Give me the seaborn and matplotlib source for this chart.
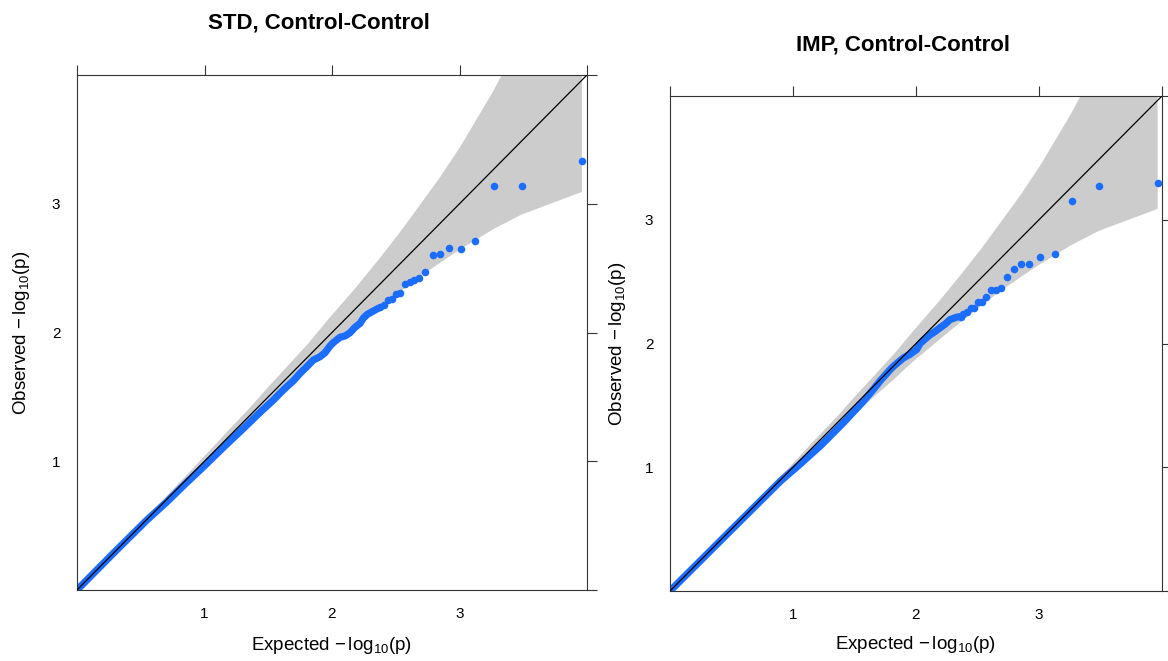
import matplotlib
matplotlib.use("Agg")
import matplotlib.pyplot as plt
import seaborn as sns

# === Data (expected vs observed -log10 p) ===
# dense part of the QQ curve, drawn as a thick line
std_exp = [0.0, 0.3, 0.55, 0.7, 0.85, 1.0, 1.15, 1.3, 1.43, 1.54, 1.592, 1.645, 1.697,
           1.749, 1.802, 1.853, 1.906, 1.945, 1.984, 2.01, 2.063, 2.102, 2.141, 2.18,
           2.22, 2.245, 2.277, 2.324, 2.363]
std_obs = [0.0, 0.3, 0.545, 0.68, 0.825, 0.965, 1.11, 1.25, 1.375, 1.475, 1.528, 1.579, 1.625,
           1.683, 1.734, 1.786, 1.812, 1.843, 1.895, 1.921, 1.963, 1.973, 1.998, 2.04,
           2.071, 2.11, 2.141, 2.167, 2.188]
# sparse tail points
std_tail_exp = [2.38, 2.41, 2.44, 2.47, 2.50, 2.53, 2.57, 2.61, 2.64, 2.68, 2.73, 2.79,
                2.85, 2.92, 3.01, 3.12, 3.27, 3.49, 3.96]
std_tail_obs = [2.20, 2.21, 2.25, 2.26, 2.30, 2.31, 2.38, 2.39, 2.41, 2.42, 2.47, 2.60,
                2.61, 2.66, 2.65, 2.71, 3.14, 3.14, 3.33]

imp_exp = [0.0, 0.5, 0.9, 1.04, 1.23, 1.40, 1.56, 1.65, 1.71, 1.76, 1.80, 1.845, 1.90,
           1.95, 2.005, 2.033, 2.073, 2.114, 2.154, 2.195, 2.236, 2.276, 2.331, 2.36]
imp_obs = [0.0, 0.495, 0.89, 1.01, 1.18, 1.35, 1.52, 1.625, 1.70, 1.755, 1.80, 1.84, 1.885,
           1.912, 1.951, 2.0, 2.036, 2.07, 2.096, 2.127, 2.156, 2.193, 2.213, 2.217]
imp_tail_exp = [2.366, 2.385, 2.417, 2.445, 2.47, 2.507, 2.534, 2.567, 2.61, 2.65, 2.69,
                2.74, 2.80, 2.85, 2.92, 3.01, 3.127, 3.27, 3.49, 3.97]
imp_tail_obs = [2.215, 2.235, 2.255, 2.283, 2.289, 2.332, 2.335, 2.376, 2.43, 2.435, 2.445,
                2.54, 2.605, 2.646, 2.64, 2.70, 2.725, 3.15, 3.27, 3.295]

# 95% concentration band (same number of SNPs in both panels)
band_exp = [0.0, 0.358, 0.66, 0.96, 1.18, 1.36, 1.48, 1.66, 1.82, 1.96, 2.19, 2.37,
            2.53, 2.68, 2.85, 3.01, 3.26, 3.48, 3.96]
band_lo = [0.0, 0.344, 0.636, 0.926, 1.137, 1.300, 1.416, 1.578, 1.718, 1.848, 2.039, 2.187,
           2.312, 2.426, 2.543, 2.649, 2.800, 2.913, 3.092]
band_hi = [0.0, 0.373, 0.684, 0.998, 1.232, 1.420, 1.555, 1.749, 1.922, 2.090, 2.353, 2.572,
           2.775, 2.978, 3.210, 3.449, 3.867, 4.275, 5.256]

diag = [0, 4]
ticks = [0, 1, 2, 3, 4]
tick_labels = ["", "1", "2", "3", ""]

BLUE = "#1a6dff"
EDGE = "#333333"

sns.set_theme(style="white")
plt.rcParams['font.family'] = ['Liberation Sans', 'DejaVu Sans']
plt.rcParams['mathtext.fontset'] = 'custom'
plt.rcParams['mathtext.rm'] = 'Liberation Sans'
plt.rcParams['mathtext.it'] = 'Liberation Sans:italic'
plt.rcParams['mathtext.bf'] = 'Liberation Sans:bold'
plt.rcParams['text.color'] = 'black'
plt.rcParams['axes.labelcolor'] = 'black'

W, H = 1168, 661
fig = plt.figure(figsize=(W / 100, H / 100), dpi=100)


def qq_panel(rect, dense_x, dense_y, tail_x, tail_y, xlab_y, ylab_x):
    ax = fig.add_axes(rect)
    ax.fill_between(band_exp, band_lo, band_hi, color="#cccccc", lw=0, zorder=1)
    sns.lineplot(x=dense_x, y=dense_y, ax=ax, sort=False, estimator=None, color=BLUE,
                 lw=5.2, solid_capstyle="round", zorder=2)
    sns.scatterplot(x=tail_x, y=tail_y, ax=ax, color=BLUE, s=30, linewidth=0, zorder=3)
    sns.lineplot(x=diag, y=diag, ax=ax, color="black", lw=0.9, zorder=4)
    ax.set_xlim(0, 4)
    ax.set_ylim(0, 4)
    ax.set_xticks(ticks)
    ax.set_xticklabels(tick_labels)
    ax.set_yticks(ticks)
    ax.set_yticklabels(tick_labels)
    ax.tick_params(direction="out", length=7, width=0.8, color=EDGE, top=True, right=True,
                   labeltop=False, labelright=False, labelsize=11, pad=5, labelcolor="black")
    for sp in ax.spines.values():
        sp.set_color(EDGE)
        sp.set_linewidth(0.8)
    ax.set_xlabel(r"Expected $-\,\mathrm{log}_{10}\mathrm{(p)}$", fontsize=13.5)
    ax.set_ylabel(r"Observed $-\,\mathrm{log}_{10}\mathrm{(p)}$", fontsize=13.5)
    ax.xaxis.label.set_va("center")
    ax.yaxis.label.set_va("center")
    ax.xaxis.set_label_coords(0.5, xlab_y)
    ax.yaxis.set_label_coords(ylab_x, 0.5)
    return ax


qq_panel([77 / W, 1 - 590 / H, 510 / W, 515 / H], std_exp, std_obs,
         std_tail_exp, std_tail_obs, -0.107, -0.108)
qq_panel([670 / W, 1 - 591 / H, 492 / W, 495 / H], imp_exp, imp_obs,
         imp_tail_exp, imp_tail_obs, -0.109, -0.106)

fig.text(319 / W, 1 - 23 / H, "STD, Control-Control", ha="center", va="center",
         fontsize=16, fontweight="bold", color="black")
fig.text(903.5 / W, 1 - 44.5 / H, "IMP, Control-Control", ha="center", va="center",
         fontsize=16, fontweight="bold", color="black")

fig.savefig("out.png", dpi=100)
